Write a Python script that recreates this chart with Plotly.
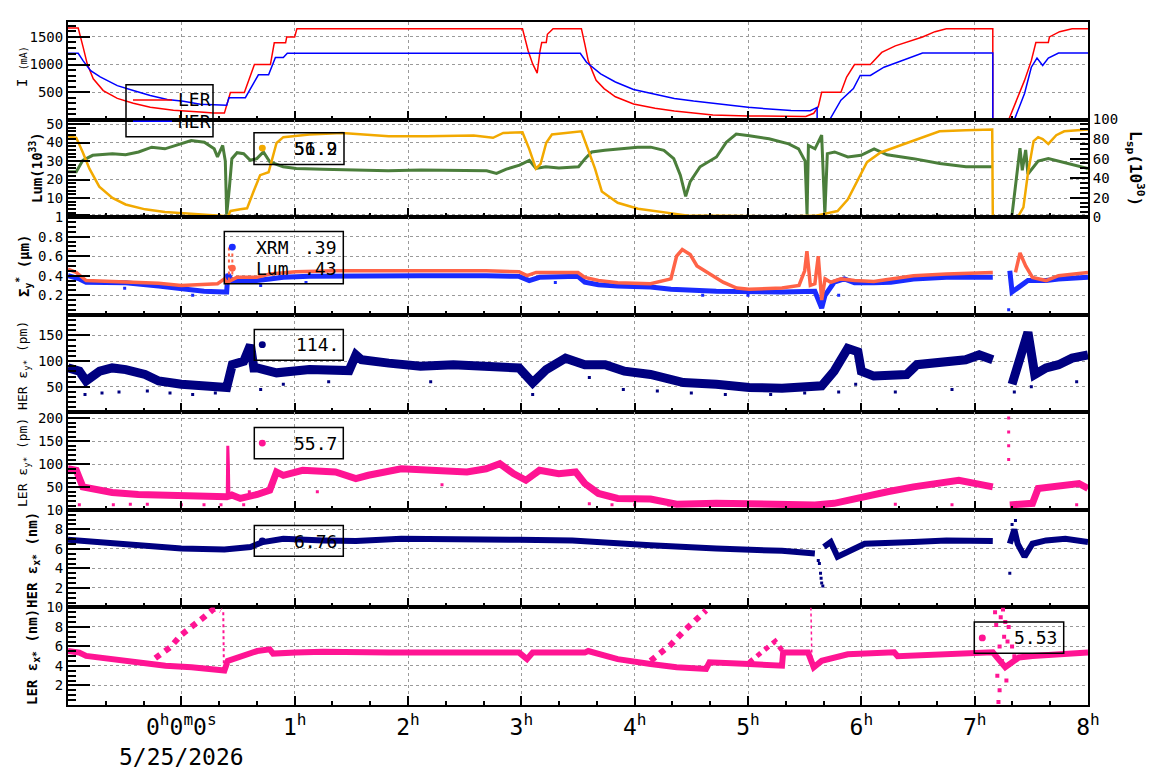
import plotly.graph_objects as go

# ---------------- data (time in hours from 0h 5/25/2026) ----------------
# Panel 1: beam currents (mA)
ler_t = [-1.0,-0.91,-0.866,-0.83,-0.777,-0.689,-0.565,-0.424,-0.274,-0.07,0.168,0.283,0.38,0.406,0.433,0.556,0.645,0.786,0.82,0.92,0.93,1.0,1.02,3.01,3.06,3.10,3.14,3.165,3.18,3.22,3.23,3.28,3.53,3.56,3.59,3.63,3.66,3.73,3.83,3.99,4.18,4.35,4.69,5.0,5.38,5.51,5.58,5.62,5.65,5.82,5.87,5.94,6.08,6.13,6.18,6.30,6.42,6.54,6.65,6.75,7.16,7.16,7.30,7.37,7.44,7.50,7.54,7.65,7.66,7.75,7.86,8.0]
ler_i = [1660,1660,1310,1008,743,530,388,300,229,175,140,122,122,300,495,495,1000,1000,1394,1394,1500,1500,1650,1650,1250,1012,845,1250,1399,1399,1548,1650,1650,1369,1071,863,714,565,417,286,208,161,89,71,60,60,119,238,500,500,774,1000,1000,1101,1220,1339,1417,1500,1595,1649,1649,0,0,357,714,1071,1399,1399,1500,1595,1649,1649]
her_t = [-1.0,-0.91,-0.866,-0.80,-0.716,-0.565,-0.424,-0.274,-0.124,0.018,0.168,0.345,0.40,0.42,0.565,0.68,0.77,0.83,0.90,0.935,3.52,3.575,3.63,3.70,3.83,3.99,4.18,4.35,4.52,4.69,5.0,5.38,5.55,5.61,5.61,5.72,5.82,5.93,5.99,6.08,6.20,6.32,6.42,6.54,7.16,7.16,7.35,7.44,7.50,7.55,7.60,7.65,7.74,8.0]
her_i = [1204,1204,1067,890,778,619,530,441,370,335,282,264,264,400,400,814,814,1128,1128,1204,1204,1042,952,833,685,548,464,387,339,298,226,167,165,226,0,0,357,565,804,804,952,1042,1119,1208,1208,0,0,476,952,1119,982,1119,1208,1208]

# Panel 2: luminosity (10^33, left) and specific luminosity (10^30, right)
lum_t = [-1.0,-0.927,-0.869,-0.782,-0.608,-0.492,-0.377,-0.261,-0.145,0.0,0.087,0.203,0.29,0.319,0.365,0.388,0.40,0.423,0.446,0.492,0.55,0.608,0.666,0.724,0.782,0.898,1.014,1.246,1.535,1.825,2.115,2.404,2.694,2.781,2.868,2.984,3.071,3.129,3.216,3.331,3.505,3.563,3.621,3.737,3.853,4.027,4.142,4.258,4.345,4.403,4.45,4.49,4.577,4.722,4.809,4.896,5.012,5.185,5.359,5.446,5.504,5.521,5.533,5.591,5.65,5.678,5.70,5.764,5.881,5.997,6.113,6.228,6.46,6.692,6.923,7.155,None,7.33,7.37,7.40,7.42,7.45,7.47,7.52,7.56,7.65,7.83,8.0]
lum_v = [24.2,24.2,30.4,33.1,34.0,33.4,34.9,37.5,36.6,39.3,41.1,40.2,36.6,32.2,38.4,30.0,1.1,15.0,31.3,34.5,34.0,30.4,31.3,34.9,29.5,26.9,26.0,25.5,25.1,24.7,25.1,25.1,24.7,23.3,25.6,27.8,30.4,26.0,26.9,26.3,26.9,31.3,34.9,35.8,36.6,37.5,37.5,35.8,31.3,22.4,10.9,18.9,26.9,32.2,40.2,44.6,43.7,42.0,39.3,36.6,30.0,1.1,38.4,36.6,44.0,1.1,34.0,34.9,32.2,33.1,36.6,33.4,31.3,28.7,26.9,26.9,None,1.1,20.0,37.0,25.0,36.0,23.0,27.0,30.0,31.3,28.6,26.0]
lsp_t = [-1.0,-0.927,-0.869,-0.811,-0.724,-0.608,-0.492,-0.319,-0.145,0.0,0.203,0.377,0.406,0.435,0.52,0.58,0.637,0.695,0.77,0.80,0.84,0.90,1.13,1.42,1.83,2.17,2.58,2.75,2.84,3.01,3.07,3.129,3.17,3.22,3.27,3.53,3.59,3.65,3.71,3.85,4.03,4.26,4.49,4.72,5.3,5.59,5.69,5.79,5.88,5.97,6.05,6.17,6.29,6.40,6.52,6.69,6.92,7.155,7.16,7.38,7.43,7.47,7.52,7.56,7.60,7.65,7.72,7.79,8.0]
lsp_v = [83,81.3,66.3,49.7,31.3,19.7,13,8,5.3,4,2.3,1.3,0,6.3,8,9,26.3,43,46,60,76,82,84.7,86.3,83,83,83.7,81.3,86.3,87,69.7,49.7,54.7,76.3,84.7,88,69.7,49.7,26.3,14.7,8.7,4.7,1.3,1.3,0.7,1.3,3.7,6.3,18,38,56.3,66.3,71.3,76.3,81.3,88,89,89.7,0,0,10,45,78,82,80,75,84,88,89.7]

# Panel 3: vertical beam size (um)
xrm_t = [-1.0,-0.90,-0.84,-0.49,-0.20,0.0,0.20,0.38,0.40,0.41,0.446,0.55,0.666,0.78,0.90,1.13,1.54,2.11,2.69,2.98,3.07,3.16,3.50,3.56,3.68,3.85,4.14,4.32,4.72,5.01,5.30,5.59,5.62,5.65,5.68,5.76,5.85,5.94,6.11,6.26,6.46,6.75,7.16,None,7.31,7.33,7.39,7.47,7.63,7.74,8.0]
xrm_v = [0.40,0.367,0.333,0.327,0.293,0.267,0.24,0.233,0.233,0.417,0.35,0.35,0.35,0.367,0.383,0.393,0.40,0.40,0.40,0.393,0.35,0.383,0.393,0.333,0.307,0.293,0.283,0.26,0.24,0.233,0.233,0.24,0.133,0.067,0.20,0.333,0.367,0.327,0.327,0.333,0.367,0.383,0.383,None,0.45,0.233,0.283,0.35,0.35,0.367,0.383]
xrm_out_t = [-0.5,0.1,0.7,1.1,3.3,4.6,5.0,5.8,7.3]
xrm_out_v = [0.27,0.2,0.3,0.33,0.33,0.2,0.2,0.2,0.05]
lumw_t = [-1.0,-0.927,-0.84,-0.49,-0.20,0.0,0.32,0.38,0.40,0.49,0.666,0.78,1.01,1.36,2.11,2.69,2.98,3.05,3.13,3.50,3.56,3.68,3.85,4.14,4.32,4.37,4.42,4.49,4.55,4.66,4.78,4.90,5.01,5.30,5.45,5.50,5.52,5.55,5.59,5.62,5.65,5.68,5.73,5.82,5.94,6.11,6.26,6.46,6.75,7.16,None,7.36,7.40,7.45,7.51,7.63,7.74,8.0]
lumw_v = [0.467,0.433,0.35,0.34,0.323,0.30,0.317,0.367,0.33,0.383,0.383,0.417,0.44,0.45,0.45,0.45,0.44,0.40,0.433,0.433,0.383,0.35,0.327,0.317,0.367,0.60,0.667,0.617,0.50,0.417,0.333,0.273,0.26,0.273,0.30,0.45,0.65,0.30,0.317,0.60,0.15,0.367,0.333,0.367,0.35,0.34,0.367,0.40,0.417,0.433,None,0.433,0.633,0.50,0.383,0.35,0.40,0.433]
lumw_sp_t = [0.42,0.42,None,0.45,0.45]
lumw_sp_v = [0.35,0.70,None,0.35,0.65]

# Panel 4: HER vertical emittance (pm)
hy_t = [-1.0,-0.90,-0.84,-0.72,-0.61,-0.49,-0.32,-0.20,0.0,0.20,0.38,0.40,0.45,0.55,0.61,0.64,0.67,0.84,1.13,1.48,1.54,1.59,1.83,2.11,2.40,2.69,2.98,3.10,3.22,3.39,3.56,3.74,3.91,4.14,4.43,4.72,5.01,5.30,5.59,5.65,5.76,5.88,5.97,6.00,6.11,6.40,6.49,6.69,6.92,7.04,7.16,None,7.33,7.39,7.47,7.53,7.63,7.74,7.86,8.0]
hy_v = [86.7,80.4,61.4,80.4,86.7,83.5,74.0,61.4,55.0,52.0,48.7,48.7,93.0,99.4,131.0,86.7,86.7,77.2,83.5,81.6,112.0,102.5,96.0,90.0,93.0,90.0,86.7,58.0,83.5,105.7,93.0,93.0,80.4,74.0,58.2,55.0,48.7,47.5,48.7,52.0,80.4,124.7,118.0,80.4,70.9,74.0,93.0,96.0,102.5,112.0,102.5,None,55.0,105.7,156.0,74.0,86.7,93.0,105.7,112.0]
hy_out_t = [-0.85,-0.7,-0.55,-0.3,-0.1,0.1,0.3,0.7,0.9,1.3,2.2,3.1,3.6,3.9,4.2,4.5,4.8,5.2,5.5,5.8,5.95,6.3,6.8,7.35,7.5,7.9]
hy_out_v = [35,38,40,42,38,35,38,45,55,60,60,35,68,45,42,38,35,35,38,40,55,40,45,40,50,60]

# Panel 5: LER vertical emittance (pm)
ly_t = [-1.0,-0.927,-0.869,-0.72,-0.61,-0.38,-0.14,0.09,0.38,0.40,0.445,0.52,0.67,0.78,0.84,0.90,1.07,1.36,1.54,1.65,1.94,2.23,2.52,2.69,2.81,2.93,3.04,3.16,3.33,3.48,3.56,3.68,3.85,4.14,4.37,4.72,5.30,5.59,5.76,6.00,6.23,6.46,6.69,6.86,7.16,None,7.31,7.51,7.56,7.80,7.92,8.0]
ly_v = [90,86.6,50.7,43.5,38.5,34.2,32.8,31.4,29.2,29.0,32.8,25.6,34.2,43.5,83,75.8,86.6,83,68.6,75.8,90,86.6,83,90,101,79.4,65,86.6,79.4,83,57.9,36.4,25.6,24.2,13,14.9,14.2,11.3,14.9,29.2,40,50.7,57.9,65,50.7,None,11.3,14.9,47.1,54.3,57.9,47.1]
ly_sp_t = [0.405,0.41,0.415,0.42]
ly_sp_v = [30,140,100,30]
ly_out_t = [-0.9,-0.6,-0.45,-0.3,0.0,0.2,0.35,0.55,0.6,1.2,2.3,3.6,3.8,4.0,4.3,6.3,6.8,7.30,7.30,7.30,7.30,7.9]
ly_out_v = [12,12,13,13,12,12,12,12,40,40,55,14,12,12,11,13,12,200,170,140,110,12]

# Panel 6: HER horizontal emittance (nm)
hx_t = [-1.0,-0.72,-0.49,-0.20,0.0,0.38,0.61,0.72,0.90,1.25,1.54,1.94,2.40,2.98,3.45,3.85,4.14,4.72,5.30,5.59,None,5.67,5.73,5.79,5.88,6.03,6.46,6.75,7.16,None,7.31,7.35,7.38,7.44,7.51,7.63,7.80,8.0]
hx_v = [6.93,6.7,6.47,6.2,6.03,5.93,6.2,6.7,7.03,6.87,6.8,7.03,6.93,6.93,6.87,6.53,6.37,6.03,5.8,5.53,None,6.2,6.7,5.2,5.7,6.53,6.7,6.87,6.8,None,6.53,8.0,6.5,5.2,6.53,6.87,7.03,6.7]
hx_out_t = [5.62,5.63,5.64,5.645,5.65,5.66,7.31,7.33,7.36]
hx_out_v = [4.8,4.5,3.5,3.0,2.5,2.2,3.5,8.5,8.9]

# Panel 7: LER horizontal emittance (nm)
lx_t = [-1.0,-0.90,-0.84,-0.61,-0.38,-0.14,0.09,0.32,0.38,0.41,0.49,0.67,0.78,0.81,1.01,1.25,1.83,2.40,2.98,3.05,3.10,3.33,3.56,3.59,3.85,4.14,4.37,4.63,4.66,5.01,5.30,5.31,5.53,5.58,5.65,5.88,6.29,6.32,7.09,7.16,7.27,7.39,7.51,8.0]
lx_v = [5.53,5.37,5.03,4.7,4.37,4.03,3.87,3.7,3.53,4.53,4.87,5.53,5.7,5.27,5.37,5.47,5.37,5.37,5.37,4.7,5.37,5.37,5.37,5.53,4.7,4.2,3.87,3.7,4.37,4.2,4.03,5.37,5.37,3.87,4.53,5.2,5.4,5.0,5.37,5.4,3.87,4.87,5.03,5.37]
lx_w1_t = [-0.23,-0.1,0.0,0.07,0.14,0.21,0.28,0.32,0.35]
lx_w1_v = [4.8,5.9,7.2,7.8,8.5,9.1,9.8,9.9,9.7]
lx_w1b_t = [0.37,0.37,0.375]
lx_w1b_v = [9.5,7.0,4.2]
lx_w2_t = [4.14,4.32,4.43,4.55,4.63]
lx_w2_v = [4.53,6.2,7.53,8.87,9.7]
lx_w3_t = [5.01,5.13,5.24,5.30]
lx_w3_v = [4.37,5.53,6.53,5.6]
lx_sp_t = [5.555,5.56,5.565]
lx_sp_v = [10.0,7.0,4.0]
lx_out_t = [7.18,7.19,7.20,7.21,7.22,7.22,7.23,7.24,7.25,7.26,7.27,7.28,7.29,7.30,7.33,7.35]
lx_out_v = [9.5,8.2,3.0,0.3,6.0,1.5,9.0,4.5,9.8,7.0,8.5,2.5,6.5,8.0,6.0,5.0]

# axis ticks
x_tickvals = [0, 1, 2, 3, 4, 5, 6, 7, 8]
x_ticktext = ["0<sup>h</sup>0<sup>m</sup>0<sup>s</sup><br>5/25/2026", "1<sup>h</sup>", "2<sup>h</sup>", "3<sup>h</sup>",
              "4<sup>h</sup>", "5<sup>h</sup>", "6<sup>h</sup>", "7<sup>h</sup>", "8<sup>h</sup>"]
legend_p2 = ["56.9", "51.2"]
legend_p3 = [("XRM", ".39"), ("Lum", ".43")]
legend_vals = {"p4": "114.", "p5": "55.7", "p6": "6.76", "p7": "5.53"}

# ---------------- figure ----------------
FONT = "DejaVu Sans Mono"
PL, PR, PT, PB = 68, 1088, 22, 719
NP = 7

def xp(px):
    return (px - PL) / (PR - PL)

def yp(py):
    return (PB - py) / (PB - PT)

def xn(k):
    return "x" if k == 1 else f"x{k}"

def yn(k):
    return "y" if k == 1 else f"y{k}"

RED = "#ff0000"; BLUE = "#0000ff"; GREEN = "#4b7e3b"; ORANGE = "#f2a900"
XRMB = "#1a2cff"; CORAL = "#ff6347"; NAVY = "#000080"; PINK = "#ff1493"

fig = go.Figure()

def line(t, v, k, color, width, yax=None, dash=None):
    fig.add_trace(go.Scatter(x=t, y=v, mode="lines", line=dict(color=color, width=width, dash=dash),
                             xaxis=xn(k), yaxis=yax or yn(k), hoverinfo="skip"))

def dots(t, v, k, color, size=3, yax=None):
    fig.add_trace(go.Scatter(x=t, y=v, mode="markers", marker=dict(color=color, size=size, symbol="square"),
                             xaxis=xn(k), yaxis=yax or yn(k), hoverinfo="skip"))

line(ler_t, ler_i, 1, RED, 1.5)
line(her_t, her_i, 1, BLUE, 1.5)
line(lum_t, lum_v, 2, GREEN, 3)
line(lsp_t, lsp_v, 2, ORANGE, 2.5, yax="y8")
line(xrm_t, xrm_v, 3, XRMB, 5)
dots(xrm_out_t, xrm_out_v, 3, XRMB)
line(lumw_t, lumw_v, 3, CORAL, 3.5)
line(lumw_sp_t, lumw_sp_v, 3, CORAL, 2, dash="dot")
line(hy_t, hy_v, 4, NAVY, 9)
dots(hy_out_t, hy_out_v, 4, NAVY)
line(ly_t, ly_v, 5, PINK, 7)
line(ly_sp_t, ly_sp_v, 5, PINK, 3)
dots(ly_out_t, ly_out_v, 5, PINK)
line(hx_t, hx_v, 6, NAVY, 6)
dots(hx_out_t, hx_out_v, 6, NAVY)
line(lx_t, lx_v, 7, PINK, 6)
line(lx_w1_t, lx_w1_v, 7, PINK, 6, dash="dot")
line(lx_w1b_t, lx_w1b_v, 7, PINK, 2, dash="dot")
line(lx_w2_t, lx_w2_v, 7, PINK, 6, dash="dot")
line(lx_w3_t, lx_w3_v, 7, PINK, 5, dash="dot")
line(lx_sp_t, lx_sp_v, 7, PINK, 1.5, dash="dot")
dots(lx_out_t, lx_out_v, 7, PINK, size=4)

grid = dict(showgrid=True, gridcolor="#9a9a9a", gridwidth=1, griddash="3px,3px")
tickfont = dict(family=FONT, size=14, color="black")

yspec = {
    1: dict(range=[5, 1770], tickvals=[500, 1000, 1500], minor=100),
    2: dict(range=[-0.3, 52.4], tickvals=[1, 10, 20, 30, 40, 50], ticktext=["", "10", "20", "30", "40", "50"], minor=2),
    3: dict(range=[0, 1], tickvals=[0.2, 0.4, 0.6, 0.8, 1], ticktext=["0.2", "0.4", "0.6", "0.8", "1"], minor=0.05),
    4: dict(range=[0.6, 190], tickvals=[50, 100, 150], minor=10),
    5: dict(range=[0.7, 212.6], tickvals=[50, 100, 150, 200], minor=10),
    6: dict(range=[0, 10], tickvals=[2, 4, 6, 8, 10], minor=0.5),
    7: dict(range=[0, 10], tickvals=[2, 4, 6, 8, 10], minor=0.5),
}

x_minor = [k / 3 for k in range(-3, 25) if k % 3 != 0]

layout = dict(width=1160, height=782, margin=dict(l=PL, r=1160 - PR, t=PT, b=782 - PB),
              plot_bgcolor="white", paper_bgcolor="white", showlegend=False,
              font=dict(family=FONT, size=14, color="black"))

for k in range(1, NP + 1):
    top = 1 - (k - 1) / NP
    bot = 1 - k / NP
    s = yspec[k]
    ya = dict(domain=[bot, top], anchor=xn(k), range=s["range"], tickmode="array", tickvals=s["tickvals"],
              ticks="inside", ticklen=22, tickwidth=2, tickcolor="black",
              minor=dict(ticks="inside", ticklen=8, tickwidth=1.5, tickcolor="black", dtick=s["minor"], tick0=0, showgrid=False),
              showline=True, linewidth=2, linecolor="black", mirror=True, zeroline=False, tickfont=tickfont, **grid)
    if "ticktext" in s:
        ya["ticktext"] = s["ticktext"]
    layout["yaxis" if k == 1 else f"yaxis{k}"] = ya
    xa = dict(domain=[0, 1], anchor=yn(k), range=[-1, 8], tickmode="array", tickvals=x_tickvals, ticktext=x_ticktext,
              ticks="inside", ticklen=9, tickwidth=2, tickcolor="black",
              minor=dict(tickmode="array", tickvals=x_minor, ticks="inside", ticklen=4, tickwidth=1.5, tickcolor="black", showgrid=False),
              showline=True, linewidth=2, linecolor="black", mirror=True, zeroline=False,
              showticklabels=(k == NP), tickfont=dict(family=FONT, size=23, color="black"), **grid)
    if k > 1:
        xa["matches"] = "x"
    layout["xaxis" if k == 1 else f"xaxis{k}"] = xa

layout["yaxis8"] = dict(overlaying="y2", side="right", anchor="x2", range=[0, 100], tickmode="array",
                        tickvals=[0, 20, 40, 60, 80, 100], ticks="inside", ticklen=18, tickwidth=2, tickcolor="black",
                        minor=dict(ticks="inside", ticklen=8, tickwidth=1.5, tickcolor="black", dtick=5, tick0=0),
                        showgrid=False, showline=True, linewidth=2, linecolor="black", zeroline=False, tickfont=tickfont)

fig.update_layout(**layout)

# ---------- y-axis titles ----------
def ann(text, x, y, size=14, angle=0, xanchor="center", color="black"):
    fig.add_annotation(text=text, xref="paper", yref="paper", x=xp(x), y=yp(y), showarrow=False,
                       textangle=angle, xanchor=xanchor, yanchor="middle",
                       font=dict(family=FONT, size=size, color=color))

ann("I <span style='font-size:10px'>(mA)</span>", 22, 68, 14, -90)
ann("<b>Lum(10<sup>33</sup>)</b>", 36, 171, 14, -90)
ann("<b>Σ<sub>y</sub><sup>*</sup> (μm)</b>", 24, 271, 14, -90)
ann("HER ε<sub>y*</sub> (pm)", 24, 373, 13, -90)
ann("LER ε<sub>y*</sub> (pm)", 24, 472, 13, -90)
ann("<b>HER ε<sub>x*</sub> (nm)</b>", 33, 571, 14, -90)
ann("<b>LER ε<sub>x*</sub> (nm)</b>", 33, 670, 14, -90)
ann("<b>L<sub>sp</sub>(10<sup>30</sup>)</b>", 1136, 171, 16, 90)

# ---------- legends ----------
def box(x0, y0, x1, y1):
    fig.add_shape(type="rect", xref="paper", yref="paper", x0=xp(x0), x1=xp(x1), y0=yp(y1), y1=yp(y0),
                  line=dict(color="black", width=1.5), fillcolor="rgba(0,0,0,0)")

def dot(x, y, color, r=3.5):
    fig.add_shape(type="circle", xref="paper", yref="paper", x0=xp(x - r), x1=xp(x + r), y0=yp(y + r), y1=yp(y - r),
                  line=dict(color=color, width=0), fillcolor=color)

def seg(x0, x1, y, color):
    fig.add_shape(type="line", xref="paper", yref="paper", x0=xp(x0), x1=xp(x1), y0=yp(y), y1=yp(y),
                  line=dict(color=color, width=1.5))

# panel 1
box(126, 86, 213, 139)
seg(133, 172, 101.5, RED)
seg(133, 172, 123.3, BLUE)
ann("LER", 176, 101.5, 18, 0, "left")
ann("HER", 176, 123.3, 18, 0, "left")
# panel 2
box(254, 135, 344, 167.5)
dot(262.3, 150.7, ORANGE)
for txt in legend_p2:
    ann(txt, 339, 151, 18, 0, "right")
# panel 3
box(224.3, 235.7, 343.3, 289)
dot(232.3, 251.7, XRMB)
dot(232.3, 273.3, CORAL)
ann(legend_p3[0][0], 254, 251.7, 18, 0, "left")
ann(legend_p3[0][1], 339, 251.7, 18, 0, "right")
ann(legend_p3[1][0], 254, 273.3, 18, 0, "left")
ann(legend_p3[1][1], 339, 273.3, 18, 0, "right")
# panel 4
box(254.3, 335.7, 343.3, 367.3)
dot(262.3, 351.3, NAVY)
ann(legend_vals["p4"], 341, 351.5, 18, 0, "right")
# panel 5
box(254.3, 435.7, 343.3, 467.7)
dot(262.3, 451.7, PINK)
ann(legend_vals["p5"], 339, 451.7, 18, 0, "right")
# panel 6
box(254.3, 535.7, 343.3, 567.3)
dot(262.3, 551.5, NAVY)
ann(legend_vals["p6"], 339, 551.7, 18, 0, "right")
# panel 7
box(974.3, 634.3, 1063.7, 666.3)
dot(982.3, 650.5, PINK)
ann(legend_vals["p7"], 1059, 650.5, 18, 0, "right")

fig.write_html("out.html")
